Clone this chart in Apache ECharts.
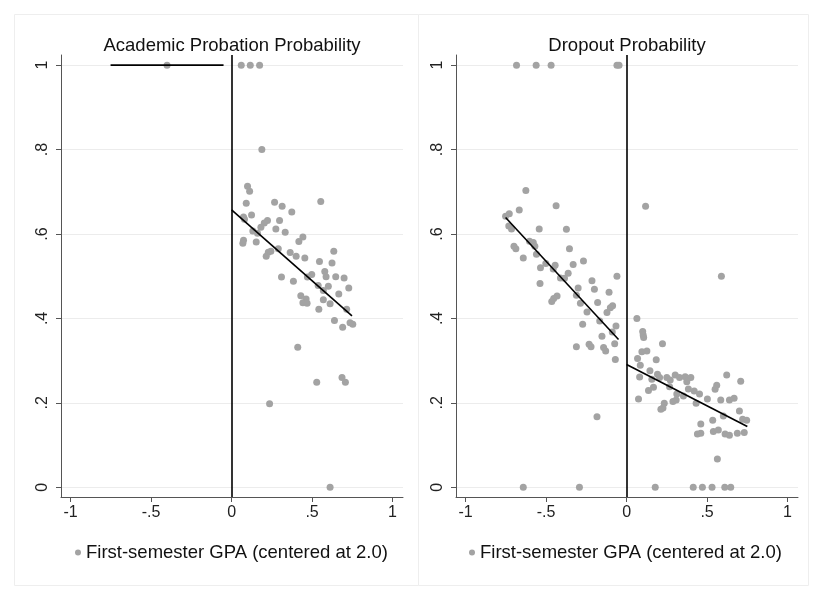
<!DOCTYPE html>
<html>
<head>
<meta charset="utf-8">
<script src="https://cdn.jsdelivr.net/npm/echarts@6/dist/echarts.min.js"></script>
<style>
  html, body { margin: 0; padding: 0; background: #fff; }
  #chart { width: 813px; height: 595px; }
</style>
</head>
<body>
<div id="chart"></div>
<script>
// panel titles and legend label
var panelTitles = ['Academic Probation Probability', 'Dropout Probability'];
var legendName = 'First-semester GPA (centered at 2.0)';

// axis ticks
var xTicks = [-1, -0.5, 0, 0.5, 1];
var yTicks = [0, 0.2, 0.4, 0.6, 0.8, 1];

// academic probation: binned GPA vs probability
var probGpa = [-0.401, 0.060, 0.116, 0.174, 0.188,
  0.099, 0.112, 0.091, 0.267, 0.314, 0.374, 0.554, 0.124, 0.074, 0.080, 0.223, 0.203, 0.298,
  0.182, 0.275, 0.132, 0.161, 0.333, 0.443, 0.418, 0.074, 0.070, 0.153, 0.290, 0.244, 0.228,
  0.215, 0.364, 0.401, 0.455, 0.635, 0.546, 0.624, 0.579, 0.587, 0.498, 0.471, 0.647, 0.699,
  0.310, 0.384, 0.538, 0.601, 0.728, 0.570, 0.666, 0.430, 0.463, 0.443, 0.469, 0.570, 0.612,
  0.542, 0.715, 0.639, 0.736, 0.753, 0.690, 0.411, 0.529, 0.686, 0.707, 0.236, 0.612];
var probRate = [1, 1, 1, 1, 0.800,
  0.713, 0.701, 0.673, 0.675, 0.666, 0.652, 0.677, 0.645, 0.640, 0.635, 0.632, 0.626, 0.632,
  0.616, 0.612, 0.607, 0.602, 0.604, 0.593, 0.582, 0.585, 0.578, 0.581, 0.565, 0.559, 0.557,
  0.547, 0.556, 0.547, 0.543, 0.559, 0.535, 0.531, 0.511, 0.499, 0.504, 0.498, 0.499, 0.496,
  0.498, 0.488, 0.478, 0.476, 0.472, 0.466, 0.458, 0.454, 0.446, 0.437, 0.436, 0.444, 0.435,
  0.422, 0.422, 0.395, 0.390, 0.386, 0.379, 0.332, 0.249, 0.260, 0.249, 0.198, 0];

// dropout: binned GPA vs probability
var dropGpa = [-0.684, -0.562, -0.469, -0.060, -0.047,
  -0.642, -0.293, 0.178, 0.414, 0.471, 0.531, 0.610, 0.647,
  -0.626, -0.438, -0.667, -0.729, -0.752, -0.732, -0.715, -0.543, -0.374, -0.603, -0.580,
  -0.570, -0.700, -0.688, -0.355, -0.560, -0.642, -0.268, -0.502, -0.332, -0.444, -0.535,
  -0.456, -0.363, -0.411, -0.386, -0.060, -0.215, -0.538, -0.301, -0.200, -0.109, -0.312,
  -0.432, -0.453, -0.465, -0.180, -0.287, -0.087, -0.101, -0.122, -0.246, -0.167, -0.273,
  -0.066, -0.089, -0.153, -0.074, -0.312, -0.233, -0.221, -0.143, -0.130, -0.070, -0.184,
  0.118, 0.589, 0.064, 0.100, 0.103, 0.106, 0.223, 0.095, 0.126, 0.068, 0.184, 0.085, 0.145,
  0.081, 0.192, 0.205, 0.157, 0.250, 0.271, 0.302, 0.329, 0.364, 0.399, 0.374, 0.267, 0.384,
  0.420, 0.453, 0.312, 0.622, 0.560, 0.550, 0.709, 0.167, 0.136, 0.074, 0.353, 0.502, 0.432,
  0.585, 0.639, 0.668, 0.308, 0.288, 0.234, 0.226, 0.213, 0.701, 0.721, 0.746, 0.601, 0.535,
  0.461, 0.461, 0.440, 0.539, 0.570, 0.612, 0.639, 0.688, 0.731, 0.564];
var dropRate = [1, 1, 1, 1, 1,
  0, 0, 0, 0, 0, 0, 0, 0,
  0.703, 0.667, 0.657, 0.648, 0.642, 0.619, 0.612, 0.612, 0.611, 0.583, 0.580,
  0.571, 0.571, 0.565, 0.565, 0.552, 0.543, 0.536, 0.530, 0.528, 0.526, 0.520,
  0.517, 0.507, 0.496, 0.495, 0.500, 0.489, 0.483, 0.472, 0.469, 0.462, 0.455,
  0.453, 0.447, 0.440, 0.438, 0.436, 0.430, 0.425, 0.414, 0.415, 0.394, 0.386,
  0.382, 0.368, 0.358, 0.340, 0.333, 0.339, 0.333, 0.331, 0.323, 0.303, 0.167,
  0.666, 0.500, 0.400, 0.369, 0.361, 0.355, 0.340, 0.321, 0.323, 0.305, 0.302, 0.289, 0.276,
  0.261, 0.268, 0.260, 0.256, 0.260, 0.254, 0.266, 0.260, 0.262, 0.260, 0.250, 0.238, 0.233,
  0.228, 0.221, 0.221, 0.266, 0.242, 0.232, 0.251, 0.237, 0.229, 0.209, 0.216, 0.209, 0.199,
  0.207, 0.207, 0.211, 0.207, 0.203, 0.199, 0.188, 0.185, 0.181, 0.161, 0.159, 0.169, 0.159,
  0.150, 0.128, 0.126, 0.132, 0.136, 0.126, 0.123, 0.128, 0.130, 0.067];

// fitted lines on each side of the cutoff
var probFitLeft = [[-0.752, 1], [-0.05, 1]];
var probFitRight = [[0, 0.657], [0.748, 0.406]];
var dropFitLeft = [[-0.752, 0.639], [-0.05, 0.350]];
var dropFitRight = [[0, 0.291], [0.750, 0.144]];

function zip(xs, ys) {
  var out = [];
  for (var i = 0; i < xs.length; i++) out.push([xs[i], ys[i]]);
  return out;
}

function fmtTick(v) {
  if (v === 0) return '0';
  if (v === 1) return '1';
  if (v === -1) return '-1';
  return String(v).replace('0.', '.');
}

var font = 'Liberation Sans, Arial, sans-serif';
var grids = [
  { left: 61, top: 55, width: 342, height: 442 },
  { left: 456, top: 55, width: 342, height: 442 }
];

function makeX(i) {
  return {
    type: 'value', gridIndex: i, min: -1.06, max: 1.065,
    axisLine: { show: true, onZero: false, lineStyle: { color: '#555', width: 1 } },
    axisTick: { show: true, length: 5, customValues: xTicks, lineStyle: { color: '#555' } },
    axisLabel: { customValues: xTicks, formatter: fmtTick, color: '#222', fontSize: 16, fontFamily: font, margin: 8 },
    splitLine: { show: false }
  };
}
function makeY(i) {
  return {
    type: 'value', gridIndex: i, min: -0.023, max: 1.024,
    axisLine: { show: true, onZero: false, lineStyle: { color: '#555', width: 1 } },
    axisTick: { show: true, length: 5, customValues: yTicks, lineStyle: { color: '#555' } },
    axisLabel: { customValues: yTicks, formatter: fmtTick, color: '#222', fontSize: 16, fontFamily: font, rotate: 90, margin: 10 },
    splitLine: { show: true, lineStyle: { color: '#ececec', width: 1 } }
  };
}

function scatter(i, data) {
  return {
    name: legendName, type: 'scatter', xAxisIndex: i, yAxisIndex: i,
    data: data, symbolSize: 7, itemStyle: { color: '#a3a3a3', opacity: 1 }, z: 2
  };
}
function fit(i, data, withCutoff) {
  var s = {
    name: 'fit' + i, type: 'line', xAxisIndex: i, yAxisIndex: i, data: data,
    showSymbol: false, symbol: 'none', lineStyle: { color: '#000', width: 1.6 }, z: 3, silent: true
  };
  if (withCutoff) {
    s.markLine = {
      silent: true, symbol: 'none', animation: false,
      label: { show: false },
      lineStyle: { color: '#000', width: 1.6, type: 'solid' },
      data: [{ xAxis: 0 }]
    };
  }
  return s;
}

var chart = echarts.init(document.getElementById('chart'), null, { renderer: 'canvas' });
chart.setOption({
  backgroundColor: '#fff',
  animation: false,
  title: [
    { text: panelTitles[0], left: 227, top: 31, textAlign: 'center',
      textStyle: { fontSize: 18.5, fontWeight: 'normal', color: '#111', fontFamily: font } },
    { text: panelTitles[1], left: 622, top: 31, textAlign: 'center',
      textStyle: { fontSize: 18.5, fontWeight: 'normal', color: '#111', fontFamily: font } }
  ],
  legend: [
    { data: [legendName], left: 70, top: 538, icon: 'circle', itemWidth: 6, itemHeight: 6, itemGap: 6,
      selectedMode: false, textStyle: { fontSize: 18.5, color: '#111', fontFamily: font } },
    { data: [legendName], left: 464, top: 538, icon: 'circle', itemWidth: 6, itemHeight: 6, itemGap: 6,
      selectedMode: false, textStyle: { fontSize: 18.5, color: '#111', fontFamily: font } }
  ],
  graphic: [
    { type: 'rect', shape: { x: 14.5, y: 14.5, width: 404, height: 571 }, style: { fill: 'none', stroke: '#eeeeee', lineWidth: 1 }, silent: true },
    { type: 'rect', shape: { x: 418.5, y: 14.5, width: 390, height: 571 }, style: { fill: 'none', stroke: '#eeeeee', lineWidth: 1 }, silent: true }
  ],
  grid: grids,
  xAxis: [makeX(0), makeX(1)],
  yAxis: [makeY(0), makeY(1)],
  series: [
    scatter(0, zip(probGpa, probRate)),
    fit(0, probFitLeft, true),
    fit(0, probFitRight, false),
    scatter(1, zip(dropGpa, dropRate)),
    fit(1, dropFitLeft, true),
    fit(1, dropFitRight, false)
  ]
});
</script>
</body>
</html>
